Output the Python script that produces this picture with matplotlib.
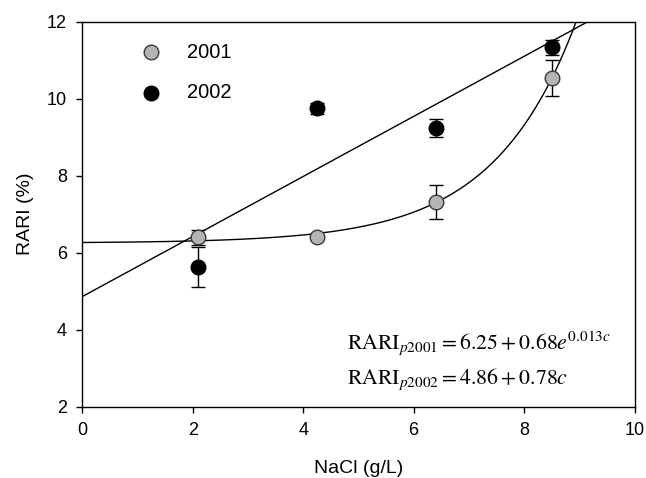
import numpy as np
import matplotlib
matplotlib.use("Agg")
import matplotlib.pyplot as plt

plt.rcParams['font.family'] = ['Liberation Sans', 'DejaVu Sans']
plt.rcParams['mathtext.fontset'] = 'stix'

# Data
nacl = [2.1, 4.25, 6.4, 8.5]
rari_2001 = [6.40, 6.40, 7.32, 10.53]
err_2001 = [0.20, 0.05, 0.45, 0.47]
rari_2002 = [5.64, 9.75, 9.24, 11.33]
err_2002 = [0.52, 0.15, 0.24, 0.20]

# Fitted curves (as drawn)
exp_fit = [6.25, 0.0145, 0.669]   # a + b*exp(k*c)
lin_fit = [4.86, 0.78]            # intercept, slope

xticks = [0, 2, 4, 6, 8, 10]
yticks = [2, 4, 6, 8, 10, 12]

fig = plt.figure(figsize=(6.46, 4.78), dpi=100)
ax = fig.add_axes([0.1274, 0.1492, 0.8548, 0.8054])

c = np.linspace(0, 10, 400)
ax.plot(c, exp_fit[0] + exp_fit[1] * np.exp(exp_fit[2] * c), color='black', lw=1.0, zorder=2)
ax.plot(c, lin_fit[0] + lin_fit[1] * c, color='black', lw=1.0, zorder=2)

ax.errorbar(nacl, rari_2001, yerr=err_2001, fmt='o', color='black', ecolor='black',
            mfc='#b4b4b4', mec='#3a3a3a', mew=1.0, ms=10.5, capsize=5, elinewidth=1.0,
            capthick=1.0, zorder=3)
ax.errorbar(nacl, rari_2002, yerr=err_2002, fmt='o', color='black', ecolor='black',
            mfc='black', mec='black', ms=10.5, capsize=5, elinewidth=1.0,
            capthick=1.0, zorder=3)

# Legend
ax.plot([1.245], [11.2], 'o', mfc='#b4b4b4', mec='#3a3a3a', mew=1.0, ms=10.5)
ax.plot([1.245], [10.15], 'o', mfc='black', mec='black', ms=10.5)
ax.text(1.9, 11.2, '2001', fontsize=14.5, va='center', ha='left')
ax.text(1.9, 10.15, '2002', fontsize=14.5, va='center', ha='left')

ax.text(4.8, 3.5, r'$\mathrm{RARI}_{p2001} = 6.25 + 0.68e^{0.013c}$', fontsize=15.7, ha='left', va='baseline')
ax.text(4.8, 2.6, r'$\mathrm{RARI}_{p2002} = 4.86 + 0.78c$', fontsize=15.7, ha='left', va='baseline')

ax.set_xlim(0, 10)
ax.set_ylim(2, 12)
ax.set_xticks(xticks)
ax.set_yticks(yticks)
ax.tick_params(direction='out', length=4, width=1, labelsize=13, pad=7)
for s in ax.spines.values():
    s.set_linewidth(1.0)
ax.set_xlabel('NaCl (g/L)', fontsize=14, labelpad=15)
ax.set_ylabel('RARI (%)', fontsize=14, labelpad=9)

fig.savefig('out.png', dpi=100)
